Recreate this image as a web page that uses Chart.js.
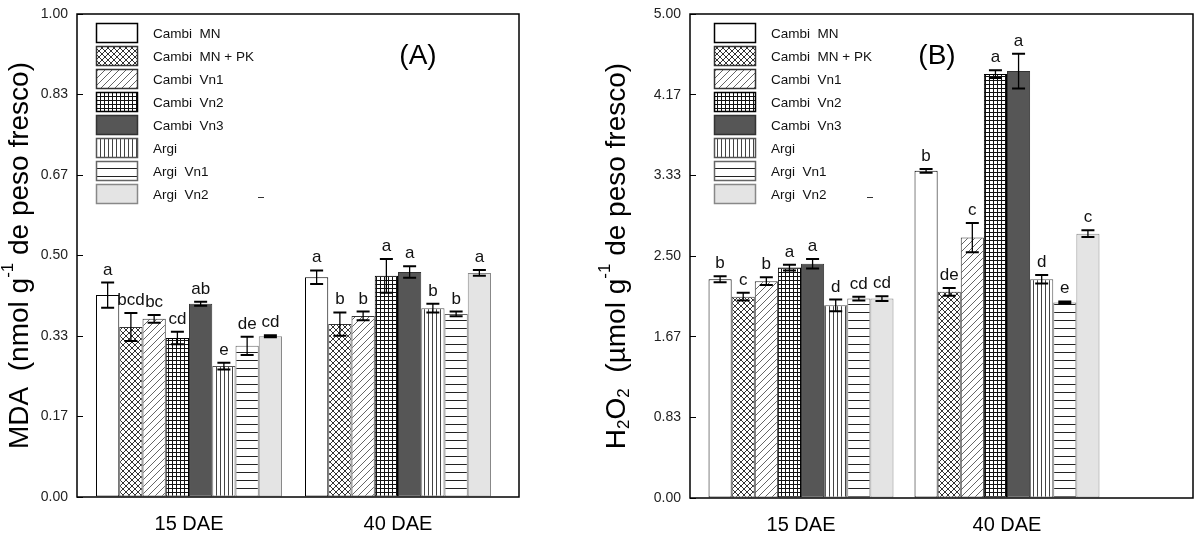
<!DOCTYPE html>
<html>
<head>
<meta charset="utf-8">
<script src="https://cdn.jsdelivr.net/npm/chart.js@4.4.1/dist/chart.umd.min.js"></script>
<style>
  body{margin:0;background:#fff;width:1197px;height:540px;position:relative;overflow:hidden}
  .panel{position:absolute;top:0;height:540px}
  #panelA{left:0;width:597px}
  #panelB{left:597px;width:600px}
</style>
</head>
<body>
<div class="panel" id="panelA"><canvas id="chartA" width="597" height="540"></canvas></div>
<div class="panel" id="panelB"><canvas id="chartB" width="600" height="540"></canvas></div>
<script>
// ---------- Data ----------
const categories = ['15 DAE', '40 DAE'];
const treatments = ['Cambi  MN', 'Cambi  MN + PK', 'Cambi  Vn1', 'Cambi  Vn2', 'Cambi  Vn3', 'Argi', 'Argi  Vn1', 'Argi  Vn2'];

// MDA (A)
const mda15 = [0.418, 0.352, 0.369, 0.329, 0.400, 0.271, 0.313, 0.333];
const mda40 = [0.455, 0.358, 0.375, 0.458, 0.466, 0.391, 0.379, 0.464];
const mdaErr15 = [0.026, 0.029, 0.008, 0.013, 0.004, 0.007, 0.019, 0.002];
const mdaErr40 = [0.014, 0.024, 0.009, 0.035, 0.012, 0.009, 0.005, 0.006];
const mdaLetters15 = ['a', 'bcd', 'bc', 'cd', 'ab', 'e', 'de', 'cd'];
const mdaLetters40 = ['a', 'b', 'b', 'a', 'a', 'b', 'b', 'a'];
const mdaTicks = ['0.00', '0.17', '0.33', '0.50', '0.67', '0.83', '1.00'];

// H2O2 (B)
const h2o2_15 = [2.26, 2.08, 2.24, 2.38, 2.42, 1.99, 2.06, 2.06];
const h2o2_40 = [3.38, 2.13, 2.69, 4.38, 4.41, 2.26, 2.02, 2.73];
const h2o2Err15 = [0.03, 0.04, 0.04, 0.03, 0.05, 0.06, 0.02, 0.025];
const h2o2Err40 = [0.02, 0.04, 0.15, 0.04, 0.18, 0.045, 0.01, 0.035];
const h2o2Letters15 = ['b', 'c', 'b', 'a', 'a', 'd', 'cd', 'cd'];
const h2o2Letters40 = ['b', 'de', 'c', 'a', 'a', 'd', 'e', 'c'];
const h2o2Ticks = ['0.00', '0.83', '1.67', '2.50', '3.33', '4.17', '5.00'];

// ---------- Fills ----------
const FONT = 'Arial, "Liberation Sans", sans-serif';

function makePattern(kind){
  const c = document.createElement('canvas');
  const g = c.getContext('2d');
  let w = 6, h = 6;
  if(kind === 'diag'){ w = h = 7; }
  if(kind === 'grid'){ w = h = 4; }
  if(kind === 'vert'){ w = 4; h = 4; }
  if(kind === 'horiz'){ w = 4; h = 8; }
  c.width = w; c.height = h;
  g.fillStyle = '#fff'; g.fillRect(0, 0, w, h);
  g.lineWidth = 1;
  g.beginPath();
  if(kind === 'cross'){
    g.strokeStyle = '#333';
    g.moveTo(0, 0); g.lineTo(w, h);
    g.moveTo(0, h); g.lineTo(w, 0);
  } else if(kind === 'diag'){
    g.strokeStyle = '#666';
    g.moveTo(0, h); g.lineTo(w, 0);
    g.moveTo(-1, 1); g.lineTo(1, -1);
    g.moveTo(w - 1, h + 1); g.lineTo(w + 1, h - 1);
  } else if(kind === 'grid'){
    g.strokeStyle = '#111';
    g.moveTo(0.5, 0); g.lineTo(0.5, h);
    g.moveTo(0, 0.5); g.lineTo(w, 0.5);
  } else if(kind === 'vert'){
    g.strokeStyle = '#444';
    g.moveTo(0.5, 0); g.lineTo(0.5, h);
  } else if(kind === 'horiz'){
    g.strokeStyle = '#222';
    g.moveTo(0, 0.5); g.lineTo(w, 0.5);
  }
  g.stroke();
  return g.createPattern(c, 'repeat');
}

const fills = [
  '#ffffff',
  makePattern('cross'),
  makePattern('diag'),
  makePattern('grid'),
  '#565656',
  makePattern('vert'),
  makePattern('horiz'),
  '#e4e4e4'
];
const borders = ['#000', '#333', '#333', '#000', '#333', '#555', '#666', '#888'];

// ---------- Plugin: error bars, letters, frame, legend, titles ----------
function drawRich(ctx, parts, size){
  let total = 0;
  parts.forEach(p => {
    ctx.font = (p.sub || p.sup ? Math.round(size * 0.6) : size) + 'px ' + FONT;
    p.w = ctx.measureText(p.t).width;
    total += p.w;
  });
  let x = -total / 2;
  parts.forEach(p => {
    const small = p.sub || p.sup;
    ctx.font = (small ? Math.round(size * 0.6) : size) + 'px ' + FONT;
    let dy = 0;
    if(p.sub) dy = size * 0.25;
    if(p.sup) dy = -size * 0.4;
    ctx.fillText(p.t, x, dy);
    x += p.w;
  });
}

const decor = {
  id: 'decor',
  afterDatasetsDraw(chart){
    const ctx = chart.ctx, ys = chart.scales.y, area = chart.chartArea;
    ctx.save();
    chart.data.datasets.forEach((ds, i) => {
      const meta = chart.getDatasetMeta(i);
      meta.data.forEach((bar, j) => {
        const v = ds.data[j].y, e = ds.errors[j];
        const yt = ys.getPixelForValue(v + e), yb = ys.getPixelForValue(v - e);
        ctx.strokeStyle = '#000';
        ctx.lineWidth = 1.3;
        ctx.beginPath();
        ctx.moveTo(bar.x, yt); ctx.lineTo(bar.x, yb);
        ctx.stroke();
        ctx.lineWidth = 2;
        ctx.beginPath();
        ctx.moveTo(bar.x - 6.5, yt); ctx.lineTo(bar.x + 6.5, yt);
        ctx.moveTo(bar.x - 6.5, yb); ctx.lineTo(bar.x + 6.5, yb);
        ctx.stroke();
        ctx.fillStyle = '#111';
        ctx.font = '17px ' + FONT;
        ctx.textAlign = 'center';
        ctx.textBaseline = 'alphabetic';
        ctx.fillText(ds.letters[j], bar.x, yt - 8);
      });
    });
    // frame
    ctx.strokeStyle = '#000';
    ctx.lineWidth = 1.5;
    ctx.strokeRect(area.left, area.top, area.right - area.left, area.bottom - area.top);
    ctx.restore();
  },
  afterDraw(chart, args, opts){
    const ctx = chart.ctx, area = chart.chartArea;
    ctx.save();
    // legend
    const bx = area.left + opts.legendX, by = area.top + 9;
    chart.data.datasets.forEach((ds, i) => {
      const y = by + i * 23;
      ctx.fillStyle = ds.backgroundColor;
      ctx.fillRect(bx, y, 42, 20);
      ctx.strokeStyle = ds.borderColor;
      ctx.lineWidth = 1.5;
      ctx.strokeRect(bx + 0.5, y + 0.5, 41, 19);
      ctx.fillStyle = '#111';
      ctx.font = '13.5px ' + FONT;
      ctx.textAlign = 'left';
      ctx.textBaseline = 'middle';
      ctx.fillText(ds.label, bx + 57, y + 11);
    });
    // stray dash left in the original figure
    ctx.strokeStyle = '#333';
    ctx.lineWidth = 1;
    ctx.beginPath();
    ctx.moveTo(area.left + opts.dashX, area.top + 183.5);
    ctx.lineTo(area.left + opts.dashX + 6, area.top + 183.5);
    ctx.stroke();
    // panel tag
    ctx.fillStyle = '#000';
    ctx.font = '28px ' + FONT;
    ctx.textAlign = 'center';
    ctx.textBaseline = 'middle';
    ctx.fillText(opts.tag, area.left + opts.tagX, 56);
    // y title
    ctx.translate(20, (area.top + area.bottom) / 2);
    ctx.rotate(-Math.PI / 2);
    ctx.textAlign = 'left';
    ctx.textBaseline = 'middle';
    ctx.fillStyle = '#000';
    drawRich(ctx, opts.title, 28);
    ctx.restore();
  }
};

// ---------- Builder ----------
function buildChart(id, p){
  const datasets = treatments.map((name, i) => ({
    label: name,
    data: [{x: 1, y: p.v15[i]}, {x: 2, y: p.v40[i]}],
    errors: [p.e15[i], p.e40[i]],
    letters: [p.l15[i], p.l40[i]],
    backgroundColor: fills[i],
    borderColor: borders[i],
    borderWidth: 1,
    borderSkipped: false,
    barPercentage: 1,
    categoryPercentage: p.catPct
  }));
  const top = p.ticks.length - 1;
  return new Chart(document.getElementById(id), {
    type: 'bar',
    data: { datasets },
    plugins: [decor],
    options: {
      responsive: false,
      animation: false,
      devicePixelRatio: 1,
      layout: { padding: { left: 0, right: p.padRight, top: 14, bottom: 0 } },
      plugins: {
        legend: { display: false },
        tooltip: { enabled: false },
        decor: { legendX: p.legendX, tag: p.tag, tagX: p.tagX, dashX: p.dashX, title: p.title }
      },
      scales: {
        x: {
          type: 'linear',
          offset: false,
          min: p.xMin,
          max: p.xMax,
          grid: { display: false, offset: false },
          border: { display: false },
          afterBuildTicks: s => { s.ticks = categories.map((c, i) => ({ value: i + 1 })); },
          afterFit: s => { s.height = p.xHeight; s.paddingLeft = 0; s.paddingRight = 0; },
          ticks: {
            padding: 7,
            color: '#000',
            font: { family: FONT, size: 20 },
            callback: v => categories[v - 1]
          }
        },
        y: {
          min: 0,
          max: p.yMax,
          grid: { display: true, drawOnChartArea: false, drawTicks: true, tickLength: -6, color: '#000', lineWidth: 1 },
          border: { display: false },
          afterBuildTicks: s => { s.ticks = p.ticks.map((t, i) => ({ value: p.yMax * i / top })); },
          afterFit: s => { s.width = p.yWidth; s.paddingTop = 0; s.paddingBottom = 0; },
          ticks: {
            padding: 15,
            color: '#222',
            font: { family: FONT, size: 14 },
            callback: (v, i) => p.ticks[i]
          }
        }
      }
    }
  });
}

buildChart('chartA', {
  v15: mda15, v40: mda40, e15: mdaErr15, e40: mdaErr40, l15: mdaLetters15, l40: mdaLetters40,
  ticks: mdaTicks, yMax: 1,
  xMin: 0.464, xMax: 2.579, catPct: 0.89,
  padRight: 78, yWidth: 77, xHeight: 43,
  legendX: 19, dashX: 181, tag: '(A)', tagX: 341,
  title: [{t: 'MDA  (nmol g'}, {t: '-1', sup: true}, {t: ' de peso fresco)'}]
});

buildChart('chartB', {
  v15: h2o2_15, v40: h2o2_40, e15: h2o2Err15, e40: h2o2Err40, l15: h2o2Letters15, l40: h2o2Letters40,
  ticks: h2o2Ticks, yMax: 5,
  xMin: 0.461, xMax: 2.903, catPct: 0.898,
  padRight: 4, yWidth: 93, xHeight: 42,
  legendX: 24, dashX: 177, tag: '(B)', tagX: 247,
  title: [{t: 'H'}, {t: '2', sub: true}, {t: 'O'}, {t: '2', sub: true}, {t: '  (µmol g'}, {t: '-1', sup: true}, {t: ' de peso fresco)'}]
});
</script>
</body>
</html>
